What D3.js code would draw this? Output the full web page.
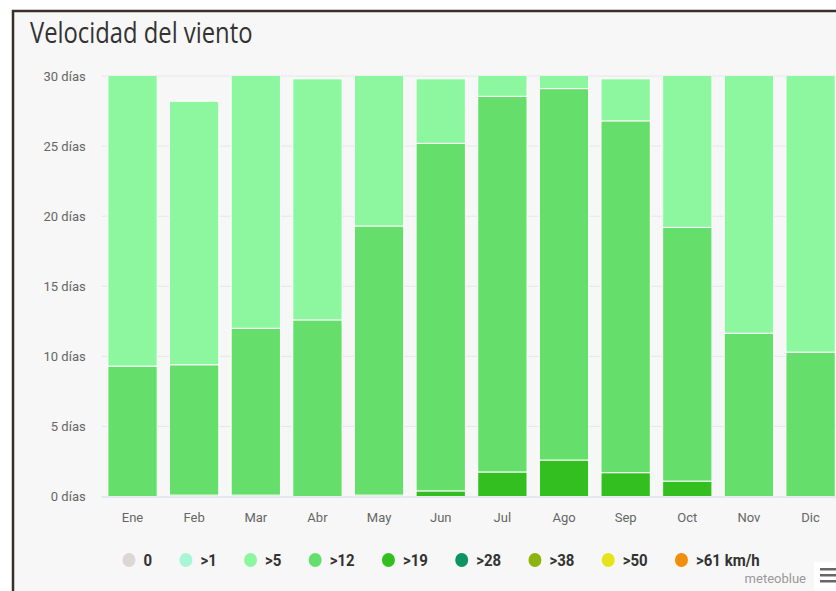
<!DOCTYPE html>
<html>
<head>
<meta charset="utf-8">
<style>
  html, body { margin: 0; padding: 0; background: #ffffff; }
  svg { display: block; }
</style>
</head>
<body>
<svg id="chart" width="836" height="591"></svg>
<script src="https://cdn.jsdelivr.net/npm/d3@7"></script>
<script>
// datos: días por mes en cada clase de velocidad
var months = ["Ene", "Feb", "Mar", "Abr", "May", "Jun", "Jul", "Ago", "Sep", "Oct", "Nov", "Dic"];
var gt19 = [0, 0.1, 0.1, 0, 0.1, 0.4, 1.75, 2.6, 1.7, 1.1, 0, 0];
var gt12 = [9.3, 9.3, 11.9, 12.6, 19.2, 24.8, 26.8, 26.5, 25.1, 18.1, 11.65, 10.3];
var gt5 = [21.7, 18.8, 19.0, 17.2, 11.7, 4.6, 2.45, 1.9, 3.0, 11.8, 18.45, 20.7];
var yTicks = [0, 5, 10, 15, 20, 25, 30];
var legendLabels = ["0", ">1", ">5", ">12", ">19", ">28", ">38", ">50", ">61 km/h"];
var legendColors = ["#dcd6d7", "#a8f6d5", "#8cf79f", "#65de6b", "#33bf1f", "#0c9462", "#8db30d", "#e6e31a", "#f28e0c"];

var svg = d3.select("#chart");
var W = 836, H = 591;
var plot = { left: 101.7, right: 841.4, top: 76, bottom: 496.5 };

// marco del gráfico
svg.append("rect")
  .attr("x", 13).attr("y", 11)
  .attr("width", 900).attr("height", 700)
  .attr("fill", "#f7f7f7")
  .attr("stroke", "#3a302b")
  .attr("stroke-width", 2.5);

svg.append("text")
  .text("Velocidad del viento")
  .attr("transform", "translate(30,43) scale(1,1.25)")
  .attr("font-family", "'Open Sans', sans-serif")
  .attr("font-size", "23.8px")
  .attr("fill", "#333333");

var x = d3.scaleBand()
  .domain(months)
  .range([plot.left, plot.right])
  .paddingInner(0.2)
  .paddingOuter(0.1);

var y = d3.scaleLinear()
  .domain([0, 30])
  .range([plot.bottom, plot.top]);

// rejilla
svg.append("g").selectAll("line")
  .data(yTicks.filter(d => d > 0))
  .join("line")
  .attr("x1", plot.left).attr("x2", W)
  .attr("y1", d => y(d)).attr("y2", d => y(d))
  .attr("stroke", "#e6e6e6")
  .attr("stroke-width", 1);

// eje Y
var yAxis = svg.append("g")
  .attr("transform", "translate(" + plot.left + ",0)")
  .call(d3.axisLeft(y).tickValues(yTicks).tickSize(0).tickPadding(16)
    .tickFormat(d => d + " días"));
yAxis.select(".domain").remove();
yAxis.selectAll("text")
  .attr("font-family", "Roboto, sans-serif")
  .attr("font-size", "13px")
  .attr("fill", "#666666");

// barras apiladas
var table = months.map(function (m, i) {
  return { month: m, gt19: gt19[i], gt12: gt12[i], gt5: gt5[i] };
});
var keys = ["gt19", "gt12", "gt5"];
var colorOf = { gt19: legendColors[4], gt12: legendColors[3], gt5: legendColors[2] };
var stacked = d3.stack().keys(keys)(table);

svg.append("clipPath").attr("id", "plotClip")
  .append("rect")
  .attr("x", plot.left).attr("y", plot.top)
  .attr("width", W - plot.left).attr("height", plot.bottom - plot.top + 1);

var bars = svg.append("g").attr("clip-path", "url(#plotClip)");
bars.selectAll("g")
  .data(stacked)
  .join("g")
  .attr("fill", d => colorOf[d.key])
  .selectAll("rect")
  .data(d => d.filter(s => s[1] - s[0] > 0))
  .join("rect")
  .attr("x", d => x(d.data.month))
  .attr("width", x.bandwidth())
  .attr("y", d => y(d[1]))
  .attr("height", d => y(d[0]) - y(d[1]))
  .attr("stroke", "#ffffff")
  .attr("stroke-width", 1);

// eje X
var xAxis = svg.append("g")
  .attr("transform", "translate(0," + plot.bottom + ")")
  .call(d3.axisBottom(x).tickSize(0).tickPadding(16));
xAxis.select(".domain")
  .attr("stroke", "#ccd6eb")
  .attr("d", "M" + plot.left + ",0.5H" + W);
xAxis.selectAll("text")
  .attr("font-family", "Roboto, sans-serif")
  .attr("font-size", "13px")
  .attr("fill", "#666666");

// leyenda
var legend = svg.append("g").attr("transform", "translate(0,560)");
var lx = 129;
legendLabels.forEach(function (lab, i) {
  legend.append("ellipse")
    .attr("cx", lx).attr("cy", 0)
    .attr("rx", 6.5).attr("ry", 7)
    .attr("fill", legendColors[i]);
  var t = legend.append("text")
    .text(lab)
    .attr("transform", "translate(" + (lx + 14.5) + ",6) scale(1,1.15)")
    .attr("font-family", "Roboto, sans-serif")
    .attr("font-size", "15px")
    .attr("font-weight", "bold")
    .attr("fill", "#333333");
  lx = lx + 14.5 + t.node().getComputedTextLength() + 33.8;
});

// créditos y menú
svg.append("text")
  .text("meteoblue")
  .attr("x", 806).attr("y", 583)
  .attr("text-anchor", "end")
  .attr("font-family", "Roboto, sans-serif")
  .attr("font-size", "13px")
  .attr("fill", "#999999");

svg.append("rect")
  .attr("x", 814).attr("y", 562)
  .attr("width", 30).attr("height", 40)
  .attr("fill", "#ffffff");
svg.append("g").selectAll("rect")
  .data([568, 574, 580])
  .join("rect")
  .attr("x", 820).attr("y", d => d)
  .attr("width", 18).attr("height", 2.5)
  .attr("fill", "#666666");
</script>
</body>
</html>
